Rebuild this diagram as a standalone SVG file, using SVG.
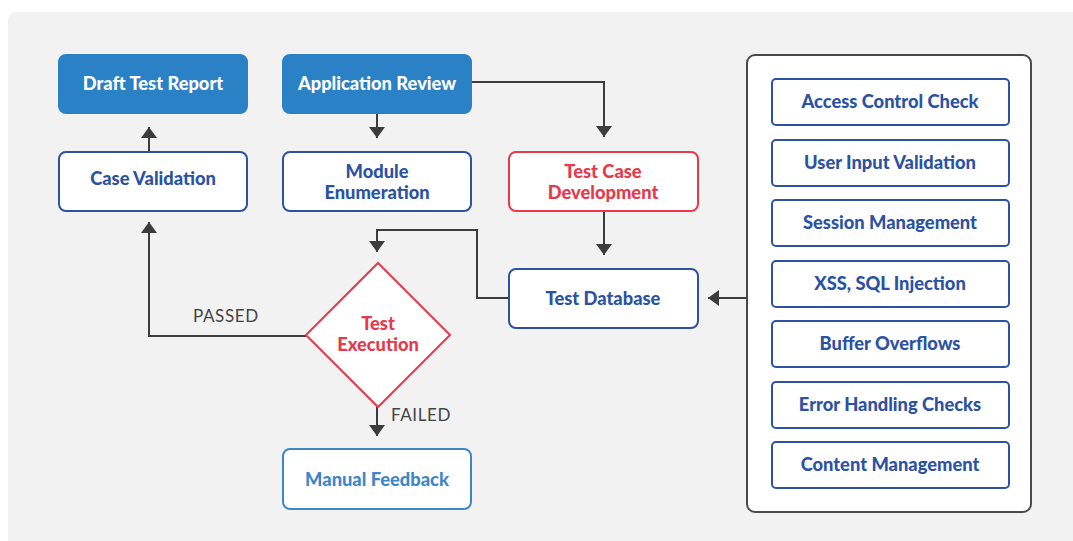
<svg xmlns="http://www.w3.org/2000/svg" width="1073" height="541" viewBox="0 0 1073 541">
<style>
.t{font-family:Lato,"Open Sans","Liberation Sans",sans-serif;font-weight:900;font-size:18.3px;text-anchor:middle}
.fill{fill:#2a81c5;stroke:#2a81c5;stroke-width:2}
.box{fill:#fff;stroke:#2b52a3;stroke-width:2}
.red{fill:#fff;stroke:#e8394a;stroke-width:2}
.lb{fill:#fff;stroke:#3d87c9;stroke-width:2}
.wt{fill:#fff}
.bt{fill:#2b52a3}
.rt{fill:#e8394a}
.lt{fill:#3d87c9}
.ln{fill:none;stroke:#3c3c3c;stroke-width:2}
.lab{font-family:Lato,"Open Sans","Liberation Sans",sans-serif;font-size:17px;fill:#444;letter-spacing:0.6px}
</style>
<defs>
<marker id="ah" viewBox="0 0 11 16" refX="11" refY="8" markerWidth="11" markerHeight="16" markerUnits="userSpaceOnUse" orient="auto">
<path d="M0,0 L11,8 L0,16 z" fill="#3c3c3c"/>
</marker>
</defs>
<rect x="8" y="12" width="1090" height="560" rx="8" fill="#f2f2f2"/>
<g id="connectors">
<path class="ln" d="M149,151 V127" marker-end="url(#ah)"/>
<path class="ln" d="M306,336 H149 V222" marker-end="url(#ah)"/>
<path class="ln" d="M377,113 V138" marker-end="url(#ah)"/>
<path class="ln" d="M471,82 H604 V137" marker-end="url(#ah)"/>
<path class="ln" d="M604,212 V255" marker-end="url(#ah)"/>
<path class="ln" d="M509,298 H477 V230 H377 V252" marker-end="url(#ah)"/>
<path class="ln" d="M746,298 H708" marker-end="url(#ah)"/>
<path class="ln" d="M377,407 V436" marker-end="url(#ah)"/>
<text class="lab" x="193" y="322">PASSED</text>
<text class="lab" x="391" y="421">FAILED</text>
</g>
<g id="draft-test-report">
<rect class="fill" x="59" y="55" width="188" height="58" rx="7"/>
<text class="t wt" x="153" y="90">Draft Test Report</text>
</g>
<g id="application-review">
<rect class="fill" x="283" y="55" width="188" height="58" rx="7"/>
<text class="t wt" x="377" y="90">Application Review</text>
</g>
<g id="case-validation">
<rect class="box" x="59" y="152" width="188" height="59" rx="7"/>
<text class="t bt" x="153" y="185">Case Validation</text>
</g>
<g id="module-enumeration">
<rect class="box" x="283" y="152" width="188" height="59" rx="7"/>
<text class="t bt" x="377" y="178">Module</text>
<text class="t bt" x="377" y="199">Enumeration</text>
</g>
<g id="test-case-development">
<rect class="red" x="509" y="152" width="189" height="59" rx="7"/>
<text class="t rt" x="603" y="178">Test Case</text>
<text class="t rt" x="603" y="199">Development</text>
</g>
<g id="test-database">
<rect class="box" x="509" y="269" width="189" height="59" rx="7"/>
<text class="t bt" x="603" y="305">Test Database</text>
</g>
<g id="test-execution">
<polygon class="red" points="378,263 450,335 378,407 306,335"/>
<text class="t rt" x="378" y="330">Test</text>
<text class="t rt" x="378" y="351">Execution</text>
</g>
<g id="manual-feedback">
<rect class="lb" x="283" y="449" width="188" height="60" rx="7"/>
<text class="t lt" x="377" y="486">Manual Feedback</text>
</g>
<g id="checks-panel">
<rect x="747" y="55" width="284" height="457" rx="8" fill="#fff" stroke="#4a4a4a" stroke-width="2"/>
</g>
<g id="access-control-check">
<rect class="box" x="772" y="79" width="237" height="46" rx="4"/>
<text class="t bt" x="890" y="108">Access Control Check</text>
</g>
<g id="user-input-validation">
<rect class="box" x="772" y="140" width="237" height="46" rx="4"/>
<text class="t bt" x="890" y="169">User Input Validation</text>
</g>
<g id="session-management">
<rect class="box" x="772" y="200" width="237" height="46" rx="4"/>
<text class="t bt" x="890" y="229">Session Management</text>
</g>
<g id="xss-sql-injection">
<rect class="box" x="772" y="261" width="237" height="46" rx="4"/>
<text class="t bt" x="890" y="290">XSS, SQL Injection</text>
</g>
<g id="buffer-overflows">
<rect class="box" x="772" y="321" width="237" height="46" rx="4"/>
<text class="t bt" x="890" y="350">Buffer Overflows</text>
</g>
<g id="error-handling-checks">
<rect class="box" x="772" y="382" width="237" height="46" rx="4"/>
<text class="t bt" x="890" y="411">Error Handling Checks</text>
</g>
<g id="content-management">
<rect class="box" x="772" y="442" width="237" height="46" rx="4"/>
<text class="t bt" x="890" y="471">Content Management</text>
</g>
</svg>
